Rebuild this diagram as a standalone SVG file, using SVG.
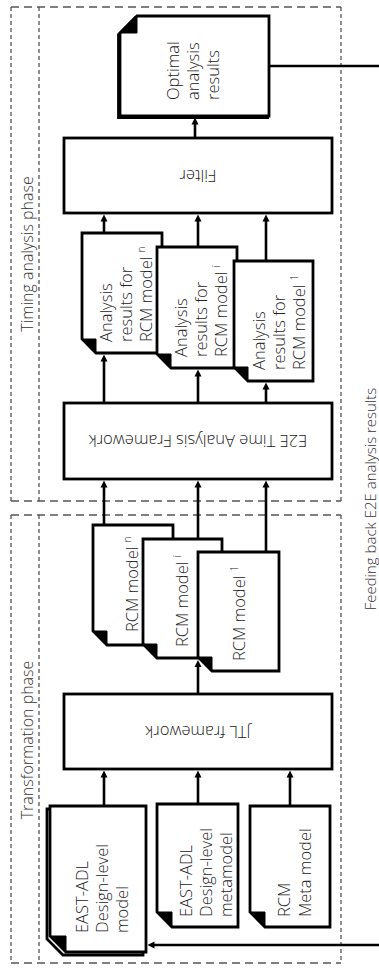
<svg xmlns="http://www.w3.org/2000/svg" width="379" height="969" viewBox="0 0 379 969">
  <style>
    .phase-h { fill: none; stroke: #555; stroke-width: 1.3; stroke-dasharray: 8 5; }
    .phase-v { fill: none; stroke: #555; stroke-width: 1.3; stroke-dasharray: 4 3; }
    .box { fill: #fff; stroke: #000; stroke-width: 2.8; stroke-linejoin: miter; }
    .shadow { fill: #fff; stroke: #000; stroke-width: 2.8; }
    .fold { fill: #000; stroke: #000; stroke-width: 1; }
    .lbl { font-family: "Open Sans", "Liberation Sans", sans-serif; font-size: 16.5px; font-weight: 300; fill: #222; }
    .plbl { font-family: "Open Sans", "Liberation Sans", sans-serif; font-size: 16px; font-weight: 300; fill: #333; }
    .sup { font-size: 10px; }
    .conn { fill: none; stroke: #000; stroke-width: 2.6; }
  </style>
  <defs>
    <marker id="ah" markerUnits="userSpaceOnUse" markerWidth="8" markerHeight="8" viewBox="0 0 8 8" refX="3" refY="4" orient="auto">
      <path d="M0,0.5 L7,4 L0,7.5 z" fill="#000"/>
    </marker>
  </defs>
  <rect width="379" height="969" fill="#fff"/>

  <!-- phase frames -->
  <g id="timing-phase">
    <path class="phase-h" d="M11,7 H341 M11,501 H341"/>
    <path class="phase-v" d="M11,7 V501 M39,7 V501 M341,7 V501"/>
    <text class="plbl" text-anchor="middle" transform="translate(33,254) rotate(-90)">Timing analysis phase</text>
  </g>
  <g id="transformation-phase">
    <path class="phase-h" d="M11,515 H341 M11,963 H341"/>
    <path class="phase-v" d="M11,515 V963 M39,515 V963 M341,515 V963"/>
    <text class="plbl" text-anchor="middle" transform="translate(33,740) rotate(-90)">Transformation phase</text>
  </g>
  <text id="feedback-label" class="plbl" style="font-size:15px" text-anchor="middle" transform="translate(375.5,499) rotate(-90)">Feeding back E2E analysis results</text>

  <!-- result of the filtering step -->
  <g id="optimal">
    <path class="shadow" d="M135.5,17.5 H267.5 V117.5 H118.5 V34.5 Z"/>
    <path class="box" d="M137,16 H269 V116 H120 V33 Z"/>
    <path class="fold" d="M120,33 H137 V16 Z"/>
    <text class="lbl" transform="translate(179,100) rotate(-90)"><tspan x="0" y="0">Optimal</tspan><tspan x="0" dy="20">analysis</tspan><tspan x="0" dy="20">results</tspan></text>
  </g>

  <g id="filter">
    <rect class="box" x="64" y="138" width="268" height="75"/>
    <text class="lbl" text-anchor="middle" transform="translate(198,175.5) rotate(180)" y="6">Filter</text>
  </g>

  <!-- analysis results, back to front -->
  <g id="results-n">
    <path class="box" d="M82,233 H162 V353 H96 L82,339 Z"/>
    <path class="fold" d="M82,339 H96 V353 Z"/>
    <text class="lbl" transform="translate(112,342) rotate(-90)"><tspan x="0" y="0">Analysis</tspan><tspan x="0" dy="20">results for</tspan><tspan x="0" dy="20">RCM model </tspan><tspan class="sup" dy="-7">n</tspan></text>
  </g>
  <g id="results-i">
    <path class="box" d="M157,247 H237 V368 H171 L157,354 Z"/>
    <path class="fold" d="M157,354 H171 V368 Z"/>
    <text class="lbl" transform="translate(187,357) rotate(-90)"><tspan x="0" y="0">Analysis</tspan><tspan x="0" dy="20">results for</tspan><tspan x="0" dy="20">RCM model </tspan><tspan class="sup" dy="-7">i</tspan></text>
  </g>
  <g id="results-1">
    <path class="box" d="M234,261 H313 V381 H248 L234,367 Z"/>
    <path class="fold" d="M234,367 H248 V381 Z"/>
    <text class="lbl" transform="translate(265,370) rotate(-90)"><tspan x="0" y="0">Analysis</tspan><tspan x="0" dy="20">results for</tspan><tspan x="0" dy="20">RCM model </tspan><tspan class="sup" dy="-7">1</tspan></text>
  </g>

  <g id="e2e">
    <rect class="box" x="64" y="403" width="268" height="76"/>
    <text class="lbl" text-anchor="middle" transform="translate(198,441) rotate(180)" y="6">E2E Time Analysis Framework</text>
  </g>

  <!-- RCM models, back to front -->
  <g id="rcm-n">
    <path class="box" d="M93,525 H173 V645 H107 L93,631 Z"/>
    <path class="fold" d="M93,631 H107 V645 Z"/>
    <text class="lbl" transform="translate(137.5,632) rotate(-90)">RCM model <tspan class="sup" dy="-7">n</tspan></text>
  </g>
  <g id="rcm-i">
    <path class="box" d="M143,539 H222 V658 H157 L143,644 Z"/>
    <path class="fold" d="M143,644 H157 V658 Z"/>
    <text class="lbl" transform="translate(188,647) rotate(-90)">RCM model <tspan class="sup" dy="-7">i</tspan></text>
  </g>
  <g id="rcm-1">
    <path class="box" d="M198,552 H279 V671 H212 L198,657 Z"/>
    <path class="fold" d="M198,657 H212 V671 Z"/>
    <text class="lbl" transform="translate(245,661) rotate(-90)">RCM model <tspan class="sup" dy="-7">1</tspan></text>
  </g>

  <g id="jtl">
    <rect class="box" x="64" y="694" width="268" height="75"/>
    <text class="lbl" text-anchor="middle" transform="translate(198,731.5) rotate(180)" y="6">JTL framework</text>
  </g>

  <!-- transformation inputs -->
  <g id="design-model">
    <path class="shadow" d="M47,809 H143 V955 H63 L47,939 Z"/>
    <path class="box" d="M50,806 H146 V952 H66 L50,936 Z"/>
    <path class="fold" d="M50,936 H66 V952 Z"/>
    <text class="lbl" transform="translate(88,933) rotate(-90)"><tspan x="0" y="0">EAST-ADL</tspan><tspan x="0" dy="20">Design-level</tspan><tspan x="0" dy="20">model</tspan></text>
  </g>
  <g id="design-metamodel">
    <path class="box" d="M157,804 H238 V927 H172 L157,912 Z"/>
    <path class="fold" d="M157,912 H172 V927 Z"/>
    <text class="lbl" transform="translate(192,917) rotate(-90)"><tspan x="0" y="0">EAST-ADL</tspan><tspan x="0" dy="20">Design-level</tspan><tspan x="0" dy="20">metamodel</tspan></text>
  </g>
  <g id="rcm-metamodel">
    <path class="box" d="M250,806 H330 V927 H265 L250,912 Z"/>
    <path class="fold" d="M250,912 H265 V927 Z"/>
    <text class="lbl" transform="translate(290,917) rotate(-90)"><tspan x="0" y="0">RCM</tspan><tspan x="0" dy="21">Meta model</tspan></text>
  </g>

  <!-- connectors -->
  <g id="connectors" class="conn" marker-end="url(#ah)">
    <path d="M195,138 V121.5"/>
    <path d="M104,233 V218.5"/>
    <path d="M198,247 V218.5"/>
    <path d="M266,261 V218.5"/>
    <path d="M104,403 V358.5"/>
    <path d="M198,403 V373.5"/>
    <path d="M266,403 V386.5"/>
    <path d="M104,525 V484.5"/>
    <path d="M198,539 V484.5"/>
    <path d="M266,552 V484.5"/>
    <path d="M198,694 V664"/>
    <path d="M104,806 V774.5"/>
    <path d="M198,804 V774.5"/>
    <path d="M290,806 V774.5"/>
    <path d="M379,945 H151.5"/>
    <path d="M269,66 H379" marker-end="none"/>
  </g>
</svg>
